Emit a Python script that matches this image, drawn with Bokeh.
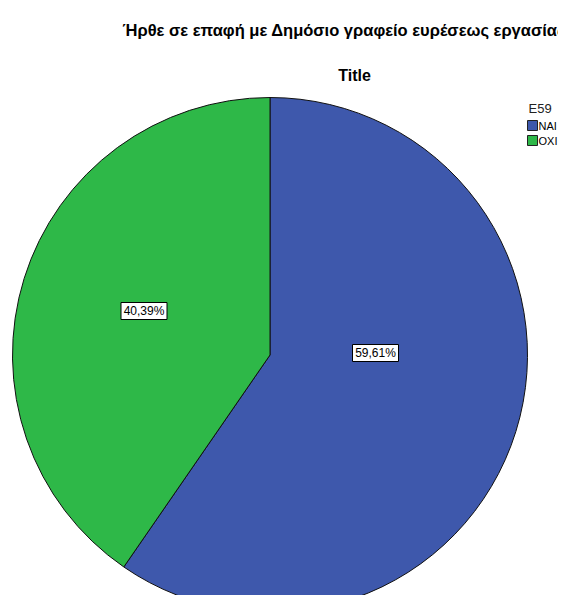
import math
from bokeh.plotting import figure
from bokeh.models import Range1d, ColumnDataSource
from bokeh.core.properties import value
from bokeh.embed import file_html
from bokeh.resources import INLINE

# ---- data ----
categories = ["NAI", "OXI"]
percentages = [59.61, 40.39]
colors = ["#3E58AC", "#2EB848"]
legend_title = "E59"
main_title = "Ήρθε σε επαφή με Δημόσιο γραφείο ευρέσεως εργασίας"
sub_title = "Title"

# ---- layout (screen positions, y measured from top) ----
W, H = 558, 595
FONT = "Liberation Sans"


def sy(y):
    return H - y


cx, cy, R = 269.5, sy(354.5), 257.5

p = figure(width=W, height=H, output_backend="svg", toolbar_location=None,
           x_range=Range1d(0, W), y_range=Range1d(0, H), min_border=0,
           background_fill_color="white", border_fill_color="white")
p.axis.visible = False
p.grid.visible = False
p.outline_line_color = None

# wedges: start at 12 o'clock, clockwise
total = sum(percentages)
starts, ends = [], []
ang = math.pi / 2
for v in percentages:
    span = 2 * math.pi * v / total
    ends.append(ang)
    starts.append(ang - span)
    ang -= span

src = ColumnDataSource(dict(cat=categories, start=starts, end=ends, color=colors,
                            label=[f"{v:.2f}%".replace(".", ",") for v in percentages]))
p.wedge(x=cx, y=cy, radius=R, start_angle="start", end_angle="end",
        direction="anticlock", fill_color="color", line_color="#111111",
        line_width=1, source=src)

# slice labels (placement offsets relative to pie centre)
label_dx = [105.5, -126.0]
label_dy = [2.0, 44.0]
lx = [cx + d for d in label_dx]
ly = [cy + d for d in label_dy]
lsrc = ColumnDataSource(dict(x=lx, y=ly, t=src.data["label"]))
p.rect(x="x", y="y", width=46, height=17, width_units="screen", height_units="screen",
       fill_color="white", line_color="black", line_width=1, source=lsrc)
p.text(x="x", y="y", text="t", text_align="center", text_baseline="middle",
       text_font=value(FONT), text_font_size="12px", text_color="black", source=lsrc)

# titles
p.text(x=[122], y=[sy(29)], text=[main_title], text_font=value(FONT),
       text_font_size="16.5px", text_font_style="bold", text_baseline="alphabetic",
       text_color="black")
p.text(x=[354], y=[sy(74.5)], text=[sub_title], text_font=value(FONT),
       text_font_size="16px", text_font_style="bold", text_align="center",
       text_baseline="alphabetic", text_color="black")

# legend
p.text(x=[528], y=[sy(107.5)], text=[legend_title], text_font=value(FONT),
       text_font_size="13px", text_baseline="alphabetic", text_color="#222222")
leg_y = [sy(125), sy(140)]
p.rect(x=[532] * len(categories), y=leg_y, width=10, height=10,
       width_units="screen", height_units="screen",
       fill_color=colors, line_color="#222222", line_width=1)
p.text(x=[538] * len(categories), y=leg_y, text=categories, text_font=value(FONT),
       text_font_size="11px", text_baseline="middle", text_color="black")

open("out.html", "w").write(file_html(p, INLINE))
